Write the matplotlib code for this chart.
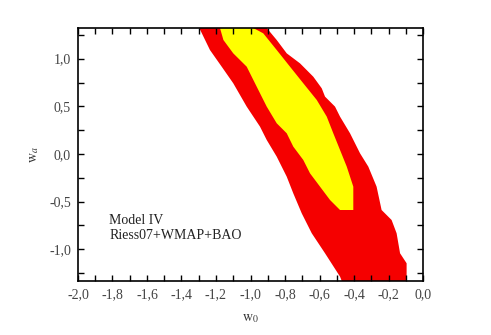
import matplotlib
matplotlib.use('Agg')
import matplotlib.pyplot as plt
from matplotlib.ticker import MultipleLocator, FuncFormatter

plt.rcParams['font.family'] = ['Liberation Serif', 'DejaVu Serif']
plt.rcParams['mathtext.fontset'] = 'stix'

RED = '#f50000'
YELLOW = '#ffff00'

# 2-sigma region (red): left edge top->bottom, right edge top->bottom
red_left_x = [-1.297, -1.235, -1.167, -1.100, -1.022, -0.945, -0.906, -0.848,
              -0.790, -0.752, -0.703, -0.645, -0.568, -0.481, -0.471]
red_left_y = [1.322, 1.091, 0.916, 0.742, 0.497, 0.287, 0.147, -0.028,
              -0.238, -0.413, -0.623, -0.832, -1.042, -1.287, -1.333]
red_right_x = [-0.906, -0.848, -0.790, -0.713, -0.636, -0.587, -0.568, -0.510,
               -0.481, -0.423, -0.365, -0.317, -0.269, -0.240, -0.182, -0.153,
               -0.133, -0.095, -0.095]
red_right_y = [1.322, 1.196, 1.056, 0.951, 0.811, 0.689, 0.602, 0.497,
               0.392, 0.217, 0.007, -0.133, -0.343, -0.588, -0.693, -0.832,
               -1.042, -1.147, -1.333]

# 1-sigma region (yellow)
yel_left_x = [-1.177, -1.157, -1.100, -1.022, -0.964, -0.906, -0.848, -0.790,
              -0.752, -0.694, -0.655, -0.597, -0.539, -0.481, -0.404]
yel_left_y = [1.322, 1.196, 1.056, 0.916, 0.706, 0.497, 0.322, 0.217,
              0.077, -0.063, -0.203, -0.343, -0.483, -0.588, -0.588]
yel_right_x = [-0.984, -0.926, -0.848, -0.771, -0.694, -0.616, -0.558, -0.520,
               -0.481, -0.442, -0.404, -0.404]
yel_right_y = [1.322, 1.266, 1.091, 0.916, 0.742, 0.567, 0.392, 0.217,
               0.042, -0.133, -0.343, -0.588]

fig = plt.figure(figsize=(4.91, 3.35), dpi=100)
ax = fig.add_axes([78 / 491, 1 - 281 / 335, 345 / 491, 253 / 335])

ax.fill(red_left_x + red_right_x[::-1], red_left_y + red_right_y[::-1],
        color=RED, lw=0)
ax.fill(yel_left_x + yel_right_x[::-1], yel_left_y + yel_right_y[::-1],
        color=YELLOW, lw=0)

ax.set_xlim(-2.0, 0.0)
ax.set_ylim(-1.333, 1.322)

comma = FuncFormatter(lambda v, _: f'{v:.1f}'.replace('.', ',').replace('-0,0', '0,0'))
ax.xaxis.set_major_locator(MultipleLocator(0.2))
ax.xaxis.set_minor_locator(MultipleLocator(0.1))
ax.yaxis.set_major_locator(MultipleLocator(0.5))
ax.yaxis.set_minor_locator(MultipleLocator(0.25))
ax.xaxis.set_major_formatter(comma)
ax.yaxis.set_major_formatter(comma)
ax.tick_params(which='both', direction='in', top=True, right=True,
               labelsize=10, labelcolor='#444444', width=1, length=4.5)
ax.tick_params(axis='x', pad=5)
ax.tick_params(axis='y', pad=5)
for s in ax.spines.values():
    s.set_linewidth(1.2)

ax.set_xlabel(r'$\mathrm{w}_0$', fontsize=10, color='#333333', labelpad=8)
ax.set_ylabel(r'$\mathrm{w}_a$', fontsize=10, color='#333333', labelpad=6)

ax.text(0.09, 0.265, 'Model IV\nRiess07+WMAP+BAO', transform=ax.transAxes,
        fontsize=10, color='#222222', va='top', ha='left', linespacing=1.2)

fig.savefig('out.png', dpi=100)
